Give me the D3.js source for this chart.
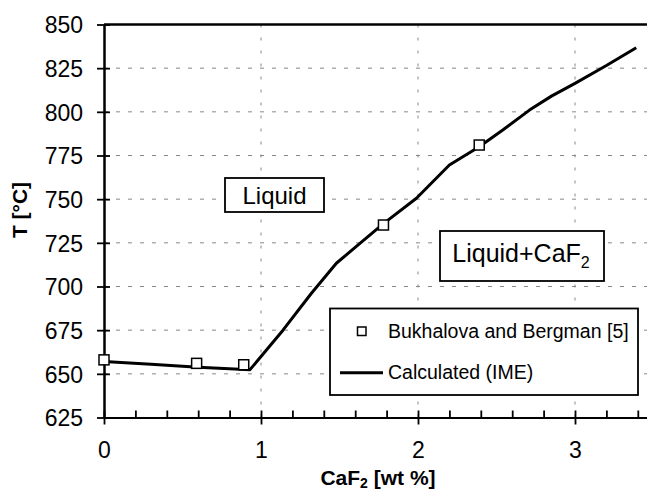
<!DOCTYPE html>
<html>
<head>
<meta charset="UTF-8">
<title>CaF2 liquidus</title>
<script src="https://d3js.org/d3.v7.min.js"></script>
<style>
  body { margin: 0; background: #fff; }
  text { font-family: "Liberation Sans", Arial, sans-serif; fill: #000; }
</style>
</head>
<body>
<div class="canvas"></div>
<script>
// data
const expX = [0, 0.59, 0.89, 1.78, 2.39];
const expT = [658, 656, 655.2, 735.2, 781];

const calcX = [0, 0.3, 0.6, 0.93, 1.14, 1.32, 1.48, 1.63, 1.78, 1.99, 2.2, 2.39, 2.54, 2.71, 2.85, 3.0, 3.2, 3.39];
const calcT = [657, 655.5, 653.8, 652.4, 675, 696, 713.3, 724.7, 736, 750.5, 769.6, 780, 789.6, 801, 809, 816.3, 826.5, 836.7];

const yTicks = [625, 650, 675, 700, 725, 750, 775, 800, 825, 850];
const xTicks = [0, 1, 2, 3];
const xMinor = [0.2, 0.4, 0.6, 0.8, 1.2, 1.4, 1.6, 1.8, 2.2, 2.4, 2.6, 2.8, 3.2, 3.4];

const width = 647, height = 491;
const plotLeft = 104, plotTop = 24.5, plotBottom = 417.5;

const svg = d3.select(".canvas").append("svg")
  .attr("width", width).attr("height", height);

const x = d3.scaleLinear().domain([0, 3.5]).range([plotLeft, plotLeft + 3.5 * 157]);
const y = d3.scaleLinear().domain([625, 850]).range([plotBottom, plotTop]);

// grid
const grid = svg.append("g")
  .attr("stroke", "#888").attr("stroke-width", 1).attr("stroke-dasharray", "4,8");
grid.selectAll(".h").data(yTicks.filter(t => t > 625 && t < 850)).enter()
  .append("line")
  .attr("x1", plotLeft).attr("x2", width)
  .attr("y1", d => y(d)).attr("y2", d => y(d));
grid.selectAll(".v").data(xTicks.filter(t => t > 0)).enter()
  .append("line")
  .attr("x1", d => x(d)).attr("x2", d => x(d))
  .attr("y1", plotTop).attr("y2", plotBottom)
  .attr("stroke-dasharray", "3,10");

// top border
svg.append("line")
  .attr("x1", plotLeft).attr("x2", width)
  .attr("y1", plotTop).attr("y2", plotTop)
  .attr("stroke", "#000").attr("stroke-width", 2.5);

// axes
const yAxis = svg.append("g").attr("transform", `translate(${plotLeft},0)`)
  .call(d3.axisLeft(y).tickValues(yTicks).tickSize(7).tickSizeOuter(0).tickPadding(14));
svg.append("g").attr("transform", `translate(${plotLeft},0)`)
  .call(d3.axisRight(y).tickValues(yTicks).tickSize(6).tickSizeOuter(0).tickFormat(""));

const xAxis = svg.append("g").attr("transform", `translate(0,${plotBottom})`)
  .call(d3.axisBottom(x).tickValues(xTicks).tickSize(7).tickSizeOuter(0).tickPadding(17)
    .tickFormat(d3.format("d")));
svg.append("g").attr("transform", `translate(0,${plotBottom})`)
  .call(d3.axisTop(x).tickValues(xTicks).tickSize(7).tickSizeOuter(0).tickFormat(""));
svg.append("g").attr("transform", `translate(0,${plotBottom})`)
  .call(d3.axisTop(x).tickValues(xMinor).tickSize(7).tickSizeOuter(0).tickFormat(""));

svg.selectAll(".domain").attr("stroke", "#000").attr("stroke-width", 2);
svg.selectAll(".tick line").attr("stroke", "#000").attr("stroke-width", 1.8);
svg.selectAll(".tick text").attr("font-size", 23)
  .attr("font-family", "'Liberation Sans', Arial, sans-serif");
yAxis.selectAll(".tick text").attr("dy", "0.36em");

// axis titles
svg.append("text")
  .attr("transform", "translate(27,210) rotate(-90)")
  .attr("text-anchor", "middle")
  .attr("font-size", 21).attr("font-weight", "bold")
  .text("T [°C]");

const xt = svg.append("text")
  .attr("x", 378).attr("y", 485)
  .attr("text-anchor", "middle")
  .attr("font-size", 21).attr("font-weight", "bold");
xt.append("tspan").text("CaF");
xt.append("tspan").attr("font-size", 14).attr("dy", 3).text("2");
xt.append("tspan").attr("dy", -3).text(" [wt %]");

// calculated line
const line = d3.line().x(d => x(d[0])).y(d => y(d[1]));
svg.append("path")
  .datum(d3.zip(calcX, calcT))
  .attr("d", line)
  .attr("fill", "none").attr("stroke", "#000").attr("stroke-width", 3)
  .attr("stroke-linejoin", "round");

// experimental points
svg.selectAll(".pt").data(d3.zip(expX, expT)).enter()
  .append("rect")
  .attr("x", d => x(d[0]) - 5).attr("y", d => y(d[1]) - 5)
  .attr("width", 10).attr("height", 10)
  .attr("fill", "#fff").attr("stroke", "#000").attr("stroke-width", 1.5);

// region labels
svg.append("rect").attr("x", 225).attr("y", 178).attr("width", 99).attr("height", 34)
  .attr("fill", "#fff").attr("stroke", "#000").attr("stroke-width", 1.8);
svg.append("text").attr("x", 274.5).attr("y", 204).attr("text-anchor", "middle")
  .attr("font-size", 24).text("Liquid");

svg.append("rect").attr("x", 440).attr("y", 231).attr("width", 164).attr("height", 50)
  .attr("fill", "#fff").attr("stroke", "#000").attr("stroke-width", 1.8);
const lc = svg.append("text").attr("x", 521).attr("y", 262).attr("text-anchor", "middle")
  .attr("font-size", 25);
lc.append("tspan").text("Liquid+CaF");
lc.append("tspan").attr("font-size", 16).attr("dy", 6).text("2");

// legend
svg.append("rect").attr("x", 330).attr("y", 308.5).attr("width", 308).attr("height", 86.5)
  .attr("fill", "#fff").attr("stroke", "#000").attr("stroke-width", 1.8);
svg.append("rect").attr("x", 357.5).attr("y", 327).attr("width", 8.5).attr("height", 8.5)
  .attr("fill", "#fff").attr("stroke", "#000").attr("stroke-width", 1.5);
svg.append("text").attr("x", 388).attr("y", 338).attr("font-size", 19.5)
  .text("Bukhalova and Bergman [5]");
svg.append("line").attr("x1", 340).attr("x2", 383).attr("y1", 372.7).attr("y2", 372.7)
  .attr("stroke", "#000").attr("stroke-width", 3);
svg.append("text").attr("x", 388).attr("y", 379).attr("font-size", 19.5)
  .text("Calculated (IME)");
</script>
</body>
</html>
